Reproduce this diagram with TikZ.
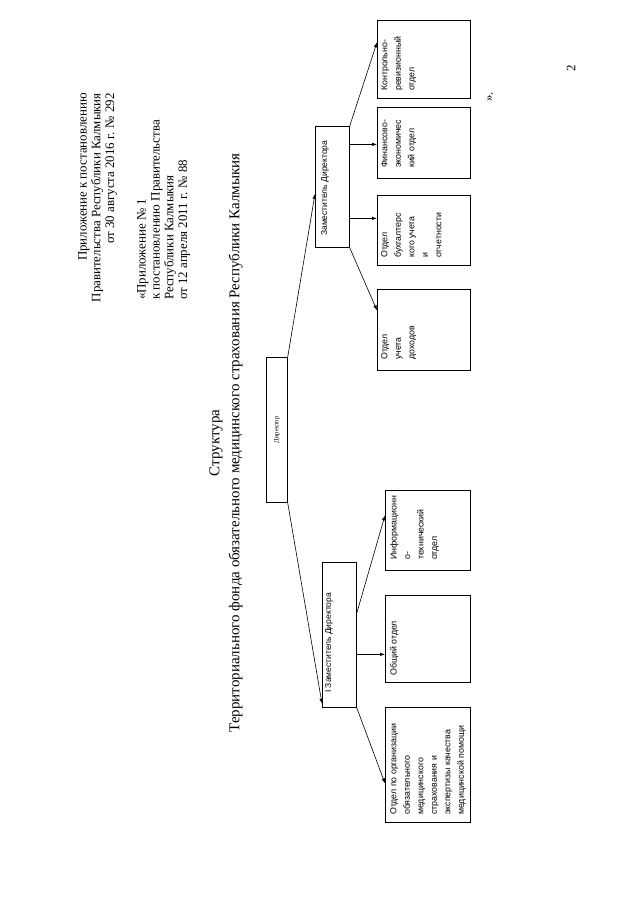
\documentclass[tikz,border=0pt]{standalone}
\usepackage{fontspec}
\setmainfont{Liberation Serif}
\newfontfamily\deptfont{Liberation Sans}
\usetikzlibrary{arrows.meta,calc}
\begin{document}
\begin{tikzpicture}[x=1pt,y=-1pt,
 box/.style={draw, line width=0.7pt, inner sep=0pt, anchor=north west},
 conn/.style={line width=0.6pt, -{Latex[length=5pt,width=3.5pt]}},
 rtext/.style={rotate=90, inner sep=0pt},
 dtext/.style={rtext, anchor=north west, align=left, font=\deptfont\fontsize{8.8}{13.5}\selectfont},
 hdr/.style={rtext, font=\fontsize{12.9}{13.8}\selectfont},
]
\useasboundingbox (0,0) rectangle (640,905);
\fill[white] (0,0) rectangle (640,905);

% header blocks
\node[hdr, anchor=north east, align=right] (h1) at (78,93)
 {Приложение к постановлению\\Правительства Республики Калмыкия\\от 30 августа 2016 г. № 292};
\node[hdr, anchor=north west, align=left] (h2) at (137,300)
 {«Приложение № 1\\к постановлению Правительства\\Республики Калмыкия\\от 12 апреля 2011 г. № 88};

% title
\node[rtext, align=center, font=\fontsize{15}{20}\selectfont] (title) at (226,443)
 {Структура\\Территориального фонда обязательного медицинского страхования Республики Калмыкия};

% end marks
\node[hdr] (q) at (490,97) {».};
\node[hdr] (pg) at (571,68) {2};

% boxes
\node[box, minimum width=21pt, minimum height=145pt] (dir) at (266,357) {};
\node[rtext, font=\fontsize{6.5}{8}\selectfont] (dirt) at (dir.center) {Директор};

\node[box, minimum width=34pt, minimum height=121pt] (zamR) at (315,126) {};
\node[rtext, anchor=north west, font=\deptfont\fontsize{8.5}{10}\selectfont] (zamRt) at (321,236) {Заместитель Директора};

\node[box, minimum width=34pt, minimum height=145pt] (zamL) at (322,562) {};
\node[rtext, anchor=north west, font=\deptfont\fontsize{8.5}{10}\selectfont] (zamLt) at (325,693) {I Заместитель Директора};

% right departments
\node[box, minimum width=93pt, minimum height=78pt] (kr) at (377,20) {};
\node[dtext] (krt) at (381,91) {Контрольно-\\ревизионный\\отдел};
\node[box, minimum width=93pt, minimum height=71pt] (fe) at (377,107) {};
\node[dtext] (fet) at (381,168) {Финансово-\\экономичес\\кий отдел};
\node[box, minimum width=93pt, minimum height=70pt] (bu) at (377,195) {};
\node[dtext] (but) at (381,258) {Отдел\\бухгалтерс\\кого учета\\и\\отчетности};
\node[box, minimum width=93pt, minimum height=81pt] (ud) at (377,289) {};
\node[dtext] (udt) at (381,360) {Отдел\\учета\\доходов};

% left departments
\node[box, minimum width=85pt, minimum height=80pt] (it) at (385,490) {};
\node[dtext] (itt) at (390,560) {Информационн\\о-\\технический\\отдел};
\node[box, minimum width=85pt, minimum height=87pt] (ob) at (385,595) {};
\node[dtext] (obt) at (390,676) {Общий отдел};
\node[box, minimum width=85pt, minimum height=115pt] (oo) at (385,707) {};
\node[dtext] (oot) at (390,815) {Отдел по организации\\обязательного\\медицинского\\страхования и\\экспертизы качества\\медицинской помощи};

% connectors
\draw[conn] (dir.north east) -- ([yshift=-7pt]zamR.west);
\draw[conn] (dir.south east) -- ([yshift=4pt]zamL.south west);

\draw[conn] (zamR.north east) -- ([yshift=17pt]kr.west);
\coordinate (feT) at ([yshift=-1.5pt]fe.west);
\draw[conn] (feT -| zamR.east) -- (feT);
\coordinate (buT) at ([yshift=12pt]bu.west);
\draw[conn] (buT -| zamR.east) -- (buT);
\draw[conn] (zamR.south east) -- ([yshift=19.5pt]ud.west);

\draw[conn] ([yshift=21.5pt]zamL.east) -- ([yshift=15pt]it.west);
\coordinate (obT) at ([yshift=-15.5pt]ob.west);
\draw[conn] (obT -| zamL.east) -- (obT);
\draw[conn] (zamL.south east) -- ([yshift=-18.5pt]oo.west);
\end{tikzpicture}
\end{document}
